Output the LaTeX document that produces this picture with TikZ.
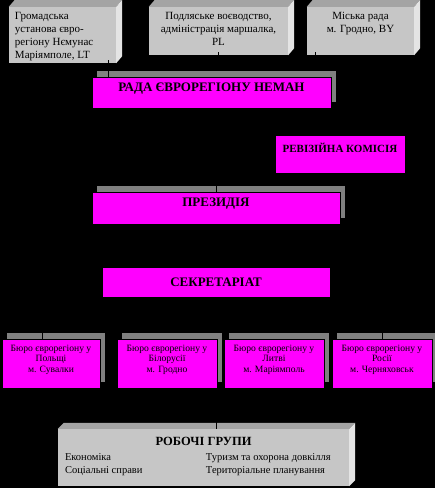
\documentclass[tikz,border=0pt]{standalone}
\usepackage{fontspec}
\setmainfont{Liberation Serif}
\pgfdeclarelayer{bg}
\pgfdeclarelayer{bevel}
\pgfdeclarelayer{hidden}
\pgfdeclarelayer{shadow}
\pgfdeclarelayer{lines}
\pgfsetlayers{bg,bevel,hidden,shadow,lines,main}
\definecolor{pinkface}{HTML}{FF00FF}
\definecolor{shadowgray}{HTML}{808080}
\definecolor{facegray}{HTML}{C6C6C6}
\definecolor{bevtop}{HTML}{A4A4A4}
\definecolor{bevside}{HTML}{E4E4E4}

\begin{document}
\begin{tikzpicture}[x=1pt, y=-1pt,
    topbox/.style={fill=facegray, inner xsep=6pt, inner ysep=0pt,
                   font=\fontsize{11}{13}\selectfont},
    pinkbox/.style={draw=black, line width=0.6pt, fill=pinkface, inner sep=0pt,
                    text height=8.5pt, font=\fontsize{13}{15}\selectfont\bfseries},
    burobox/.style={draw=black, line width=0.6pt, fill=pinkface, inner sep=0pt,
                    minimum width=100pt, minimum height=49pt,
                    font=\fontsize{9.6}{10.5}\selectfont},
    conn/.style={draw=black, line width=0.8pt},
]
    \begin{pgfonlayer}{bg}
        \fill[black] (0,0) rectangle (435,488);
    \end{pgfonlayer}
    \useasboundingbox (0,0) rectangle (435,488);

    % Founders and working groups (grey 3D boxes)
    \begin{pgfonlayer}{bevel}
        \node[topbox] (gromada) at (62.5,35)
            {\parbox[c][56pt][t]{95pt}{\raggedright\rule{0pt}{12pt}Громадська\\установа євро-\\регіону Нємунас\\Маріямполе, LT}};
        \node[topbox] (podlasie) at (218.5,31)
            {\parbox[c][48pt][t]{127pt}{\centering\rule{0pt}{12pt}Подляське воєводство,\\адміністрація маршалка,\\PL}};
        \node[topbox] (grodno) at (360.5,31)
            {\parbox[c][48pt][t]{95pt}{\centering\rule{0pt}{12pt}Міська рада\\м. Гродно, BY}};
        \node[topbox, inner xsep=7pt, font=\fontsize{10.5}{13}\selectfont] (grupy) at (203.5,457.5)
            {\parbox[c][57pt][t]{277pt}{\rule{0pt}{16pt}\makebox[277pt][c]{\fontsize{12.5}{13}\selectfont\bfseries РОБОЧІ ГРУПИ}\\[2pt]%
             \makebox[141pt][l]{Економіка}Туризм та охорона довкілля\\%
             \makebox[141pt][l]{Соціальні справи}Територіальне планування}};

        \foreach \b/\dy in {gromada/7pt, podlasie/7pt, grodno/7pt, grupy/6pt} {
            \fill[bevtop] (\b.north west) -- ++(6pt,\dy) -- ([shift={(6pt,\dy)}]\b.north east) -- (\b.north east) -- cycle;
            \fill[bevside] (\b.north east) -- ++(6pt,\dy) -- ([shift={(6pt,\dy)}]\b.south east) -- (\b.south east) -- cycle;
        }
    \end{pgfonlayer}

    % Council, commission, presidium, secretariat
    \node[pinkbox, minimum width=239pt, minimum height=31pt, text depth=11pt] (rada) at (211.5,92.5) {РАДА ЄВРОРЕГІОНУ НЕМАН};
    \node[pinkbox, minimum width=130pt, minimum height=38pt, text height=7.5pt, text depth=10pt,
          font=\fontsize{11}{13}\selectfont\bfseries] (revkom) at (340,154) {РЕВІЗІЙНА КОМІСІЯ};
    \node[pinkbox, minimum width=248pt, minimum height=32pt, text depth=12.5pt] (prez) at (216,208) {ПРЕЗИДІЯ};
    \node[pinkbox, minimum width=228pt, minimum height=30pt, text depth=0pt] (sekr) at (216,282) {СЕКРЕТАРІАТ};

    % Offices
    \node[burobox, minimum width=98pt] (buro1) at (51,363.5)
        {\parbox[c][49pt][t]{96pt}{\centering\rule{0pt}{12pt}Бюро єврорегіону у\\Польщі\\м. Сувалки}};
    \node[burobox] (buro2) at (167,363.5)
        {\parbox[c][49pt][t]{96pt}{\centering\rule{0pt}{12pt}Бюро єврорегіону у\\Білорусії\\м. Гродно}};
    \node[burobox] (buro3) at (274,363.5)
        {\parbox[c][49pt][t]{96pt}{\centering\rule{0pt}{12pt}Бюро єврорегіону у\\Литві\\м. Маріямполь}};
    \node[burobox] (buro4) at (382,363.5)
        {\parbox[c][49pt][t]{96pt}{\centering\rule{0pt}{12pt}Бюро єврорегіону у\\Росії\\м. Черняховськ}};

    % Shadows
    \begin{pgfonlayer}{shadow}
        \foreach \b in {rada, prez, buro1, buro2, buro3, buro4}
            \fill[shadowgray] ([shift={(5pt,6pt)}]\b.south west) rectangle ([shift={(5pt,6pt)}]\b.north east);
    \end{pgfonlayer}

    % Connectors
    \coordinate (t1) at ([xshift=45.5pt]gromada.south);
    \coordinate (t3) at ([xshift=-45.5pt]grodno.south);
    \coordinate (busL) at (42,318);
    \coordinate (busR) at (382,318);
    \begin{pgfonlayer}{hidden}
        \draw[conn] ([yshift=3pt]podlasie.south) -- (podlasie.south |- rada.north);
        \draw[conn] ([yshift=3pt]t3) -- (t3 |- rada.north);
        \draw[conn] (revkom.west) -- (revkom.west -| prez.north);
        \draw[conn] (prez.south) -- (sekr.north);
        \draw[conn] (sekr.south) -- (sekr.south |- busL);
        \draw[conn] (busL) -- (busR);
        \draw[conn] (busL -| buro2.north) -- (buro2.north);
        \draw[conn] (busL -| buro3.north) -- (buro3.north);
        \draw[conn] (sekr.south) -- (sekr.south |- grupy.north);
    \end{pgfonlayer}
    \begin{pgfonlayer}{lines}
        \draw[conn] ([yshift=3pt]t1) -- (t1 |- rada.north);
        \draw[conn] (prez.north |- rada.south) -- (prez.north);
        \draw[conn] (busL) -- (busL |- buro1.north);
        \draw[conn] (busR) -- (buro4.north);
    \end{pgfonlayer}
\end{tikzpicture}
\end{document}
